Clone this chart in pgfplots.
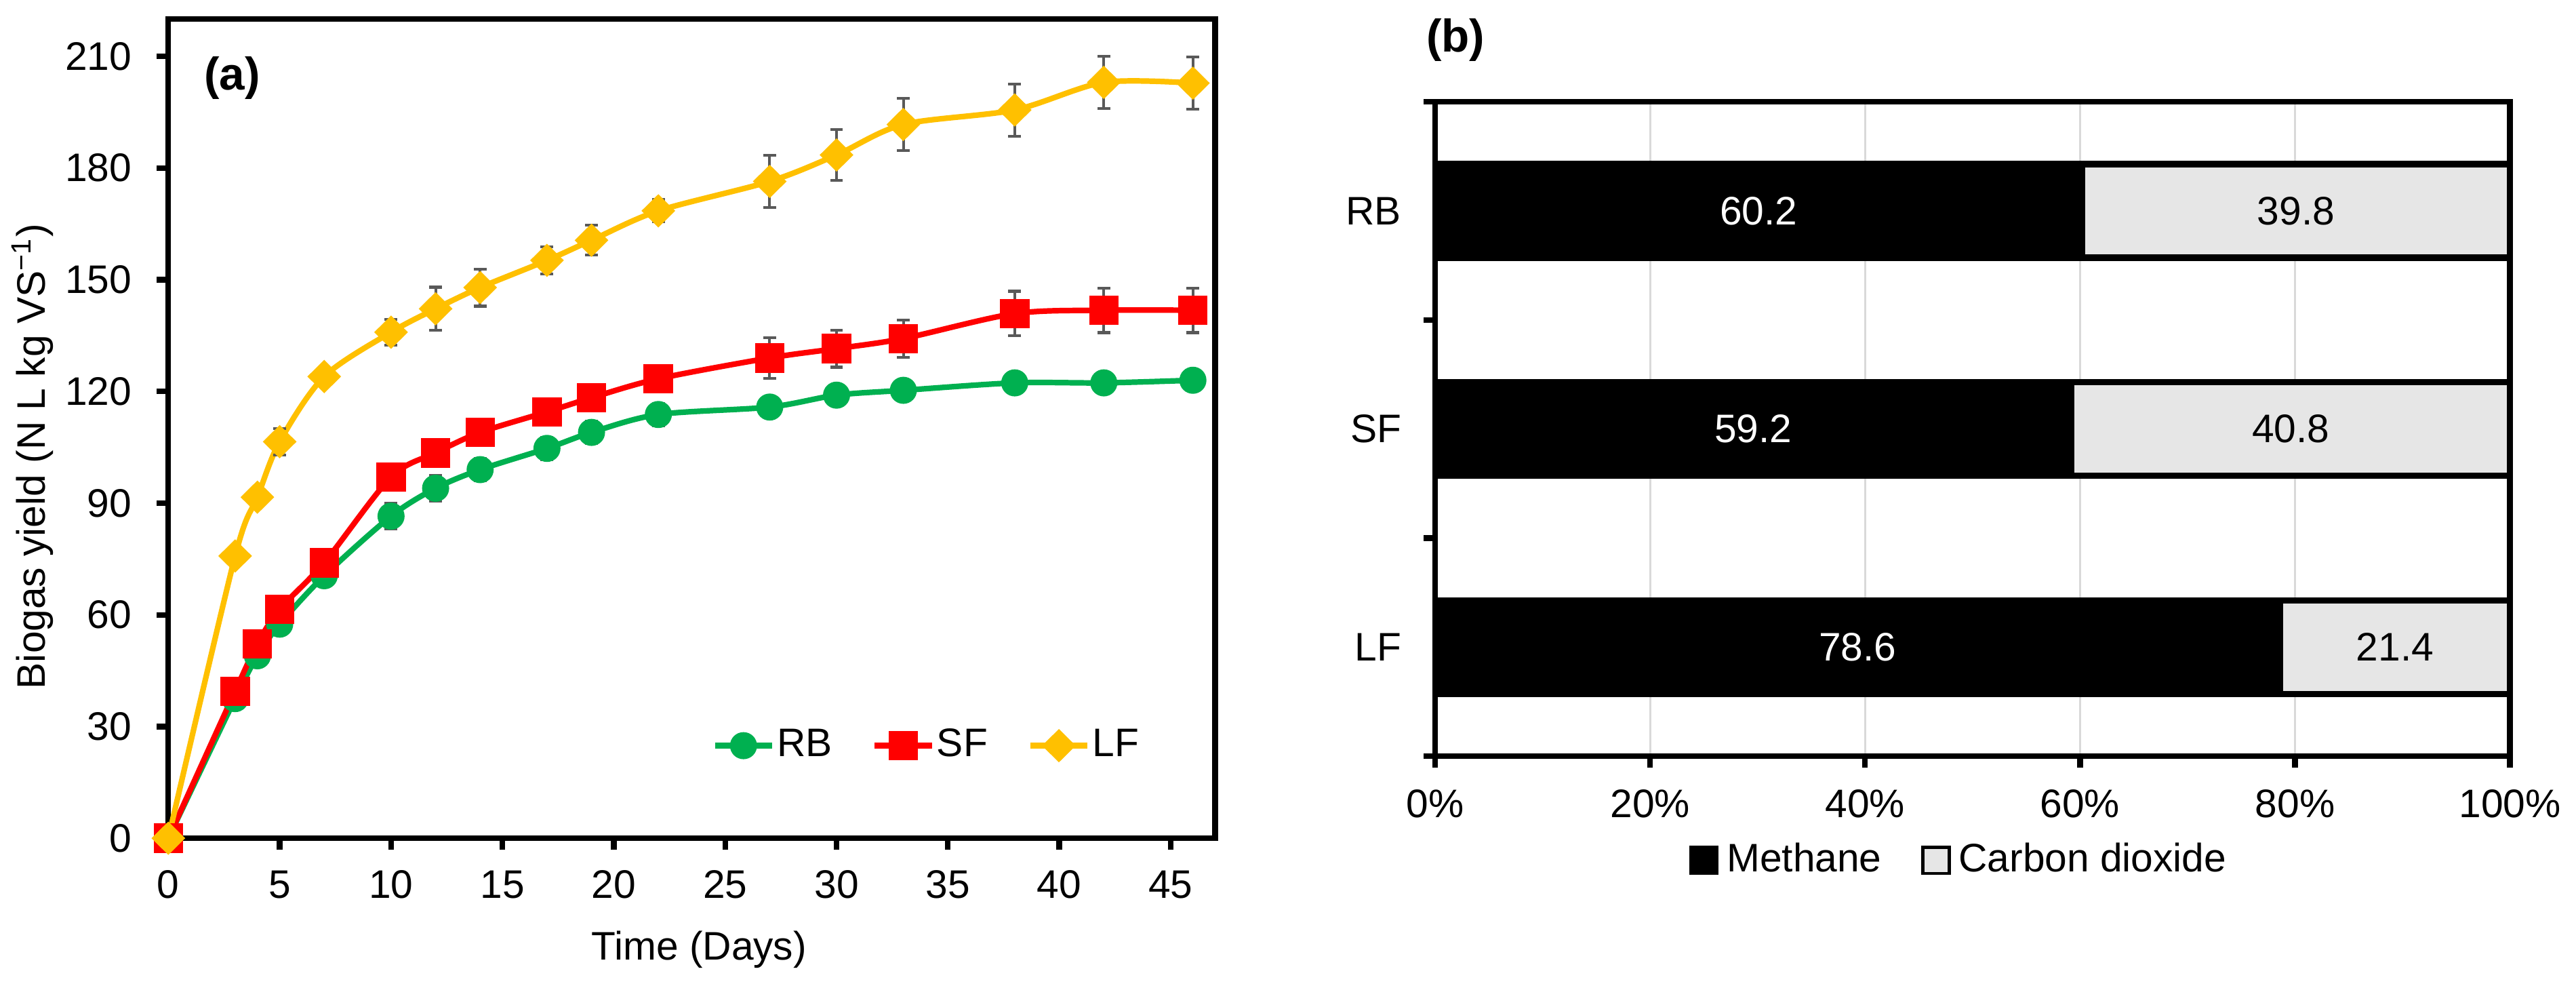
\documentclass[border=0pt]{standalone}
\usepackage{fontspec}
\setmainfont{Liberation Sans}
\usepackage{pgfplots}
\usepackage{pgfplotstable}
\pgfplotsset{compat=1.18}

\definecolor{rbgreen}{RGB}{0,176,80}
\definecolor{sfred}{RGB}{255,0,0}
\definecolor{lfgold}{RGB}{255,192,0}
\definecolor{errgray}{RGB}{89,89,89}
\definecolor{co2gray}{RGB}{230,230,230}
\definecolor{gridgray}{RGB}{217,217,217}

% day, biogas yield, standard deviation
\pgfplotstableread{
day yield err
0  0     0
3  37.5  1.5
4  49.0  1.5
5  57.5  2
7  70.5  1.5
10 86.5  3.5
12 94.0  3.5
14 99.0  3
17 104.7 3
19 109.0 3
22 113.8 3
27 115.8 1.5
30 119.0 1.5
33 120.3 1.5
38 122.3 2
42 122.3 2
46 123.0 2
}\rbdata

\pgfplotstableread{
day yield err
0  0     0
3  39.5  1.5
4  52.2  2
5  61.5  2
7  74.0  2
10 97.0  2
12 103.5 2
14 109.0 2
17 114.5 2
19 118.3 2
22 123.4 2
27 129.0 5.5
30 131.5 5
33 134.2 5
38 140.9 6
42 141.8 6
46 141.8 6
}\sfdata

\pgfplotstableread{
day yield err
0  0     0
3  75.8  1.5
4  91.6  2
5  106.5 3.5
7  124.0 2
10 135.9 3.5
12 142.2 5.8
14 147.9 5
17 155.2 3.7
19 160.6 4
22 168.5 3
27 176.4 7
30 183.5 6.8
33 191.7 7
38 195.6 7
42 203.0 7
46 202.8 7
}\lfdata

% gas composition in percent (0 = LF, 1 = SF, 2 = RB)
\pgfplotstableread{
pos methane co2
0 78.6 21.4
1 59.2 40.8
2 60.2 39.8
}\gasdata

\pgfplotsset{
  panel/.style={
    scale only axis,
    anchor=south west,
    clip=false,
    axis line style={line width=1.4pt},
    tick style={black, line width=1.4pt},
    major tick length=2.9pt,
    tick align=outside,
    xtick pos=bottom, ytick pos=left,
    /pgf/number format/assume math mode=true,
  },
  yieldline/.style={
    color=#1, line width=1.4pt, smooth, tension=0.5,
    error bars/y dir=both, error bars/y explicit,
    error bars/error bar style={errgray, line width=0.7pt},
    error bars/error mark options={errgray, rotate=90, mark size=1.6pt, line width=0.7pt},
  },
}

\begin{document}
\begin{tikzpicture}
\useasboundingbox (0,0) rectangle (647.4pt,247.6pt);

% (a) biogas yield over time
\begin{axis}[
  panel,
  at={(42.3pt,37.0pt)},
  width=263.1pt, height=205.8pt,
  xmin=0, xmax=47, ymin=0, ymax=220,
  xtick={0,5,...,45}, ytick={0,30,...,210},
  xticklabel style={yshift=-1.7pt},
  yticklabel style={xshift=-2.8pt},
  xlabel={Time (Days)},
  ylabel={Biogas yield (N L kg VS\textsuperscript{−1})},
  xlabel style={at={(axis description cs:0.507,-0.136)}, anchor=center},
  ylabel style={at={(axis description cs:-0.1295,0.466)}, anchor=center},
  legend style={at={(axis description cs:0.727,0.113)}, anchor=center,
    draw=none, fill=none, legend columns=3,
    /tikz/every odd column/.append style={column sep=-1.5pt},
    /tikz/every even column/.append style={column sep=8pt}},
  legend image code/.code={
    \draw[mark repeat=2, mark phase=2, #1] plot coordinates {(0pt,0pt) (7.2pt,0pt) (14.4pt,0pt)};},
]
\addplot[yieldline=rbgreen, mark=*, mark size=2.7pt, mark options={solid, fill=rbgreen}]
  table[x=day, y=yield, y error=err] {\rbdata};
\addlegendentry{RB}
\addplot[yieldline=sfred, mark=square*, mark size=3pt, mark options={solid, fill=sfred}]
  table[x=day, y=yield, y error=err] {\sfdata};
\addlegendentry{SF}
\addplot[yieldline=lfgold, mark=diamond*, mark size=3.2pt, mark options={solid, fill=lfgold, xscale=1.35}]
  table[x=day, y=yield, y error=err] {\lfdata};
\addlegendentry{LF}
\node[font=\bfseries\fontsize{11.5}{13}\selectfont] at (rel axis cs:0.061,0.928) {(a)};
\end{axis}

% (b) gas composition
\begin{axis}[
  panel,
  at={(360.7pt,57.6pt)},
  width=270.1pt, height=164.4pt,
  xbar stacked, bar width=23.5pt,
  xmin=0, xmax=100, ymin=-0.5, ymax=2.5,
  xtick={0,20,...,100},
  xticklabels={0\%,20\%,40\%,60\%,80\%,100\%},
  xticklabel style={yshift=-2pt},
  ytick={-0.5,0.5,1.5,2.5}, yticklabels={},
  extra y ticks={0,1,2}, extra y tick labels={LF,SF,RB},
  extra y tick style={major tick length=0pt, yticklabel style={xshift=-5pt}},
  xmajorgrids, major grid style={gridgray, line width=0.6pt},
  legend style={at={(axis description cs:0.49,-0.159)}, anchor=center,
    draw=none, fill=none, legend columns=2,
    /tikz/every even column/.append style={column sep=8pt}},
  area legend,
  legend image code/.code={
    \draw[#1, line width=0.8pt] (0pt,-3.3pt) rectangle (6.6pt,3.3pt);},
  nodes near coords,
  point meta=explicit symbolic,
  every node near coord/.append style={anchor=center},
]
\addplot[fill=black, draw=black, line width=1.6pt,
  every node near coord/.append style={white}]
  table[x=methane, y=pos, meta=methane] {\gasdata};
\addlegendentry{Methane}
\addplot[fill=co2gray, draw=black, line width=1.6pt,
  every node near coord/.append style={black}]
  table[x=co2, y=pos, meta=co2] {\gasdata};
\addlegendentry{Carbon dioxide}
\node[font=\bfseries\fontsize{11.5}{13}\selectfont] at (rel axis cs:0.019,1.094) {(b)};
\end{axis}
\end{tikzpicture}
\end{document}
